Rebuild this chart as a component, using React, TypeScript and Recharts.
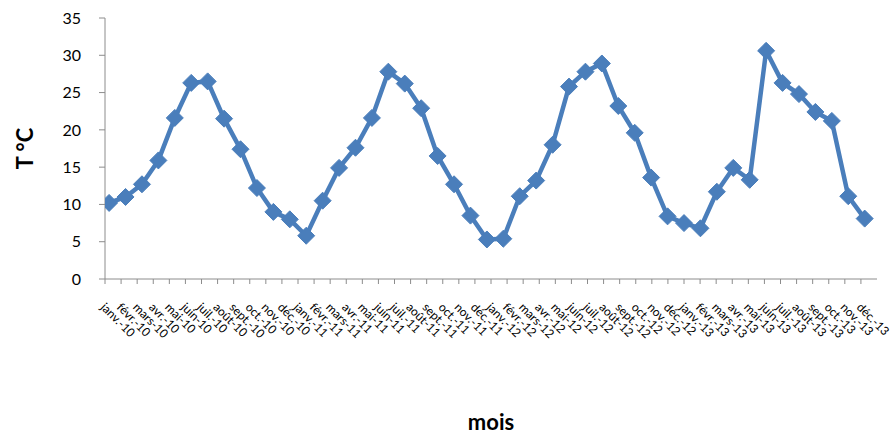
import React from 'react';
import { LineChart, Line, XAxis, YAxis, Label } from 'recharts';

// month labels of the category axis
const MONTH_NAMES = ['janv.', 'févr.', 'mars', 'avr.', 'mai', 'juin', 'juil.', 'août', 'sept.', 'oct.', 'nov.', 'déc.'];
const YEARS = ['10', '11', '12', '13'];
const MONTH_LABELS = YEARS.flatMap((y) => MONTH_NAMES.map((m) => `${m}-${y}`));

// monthly temperatures (°C)
const TEMPERATURES = [
  10.2, 11.0, 12.7, 15.9, 21.6, 26.3, 26.5, 21.5, 17.4, 12.2, 9.0, 8.0,
  5.8, 10.5, 14.9, 17.6, 21.6, 27.8, 26.2, 22.9, 16.5, 12.7, 8.5, 5.3,
  5.4, 11.1, 13.2, 18.0, 25.8, 27.8, 28.9, 23.2, 19.6, 13.6, 8.4, 7.5,
  6.8, 11.7, 14.9, 13.3, 30.6, 26.3, 24.8, 22.4, 21.2, 11.1, 8.1,
];

const Y_TICKS = [0, 5, 10, 15, 20, 25, 30, 35];

const LINE_COLOR = '#4a7ebb';
const AXIS_COLOR = '#8c8c8c';
const FONT = 'Lato, "Open Sans", sans-serif';

const data = TEMPERATURES.map((t, i) => ({ idx: i, temp: t }));
const monthTicks = MONTH_LABELS.map((_, i) => i);

const renderDiamond = (props: any) => {
  const { cx, cy, index } = props;
  if (!Number.isFinite(cx) || !Number.isFinite(cy)) return <g key={`d-${index}`} />;
  const r = 8.5;
  return (
    <polygon
      key={`d-${index}`}
      points={`${cx},${cy - r} ${cx + r},${cy} ${cx},${cy + r} ${cx - r},${cy}`}
      fill={LINE_COLOR}
      stroke={LINE_COLOR}
      strokeWidth={1}
    />
  );
};

const MonthTick = (props: any) => {
  const { x, y, payload } = props;
  const tx = x - 5;
  const ty = y + 22;
  return (
    <text
      x={tx}
      y={ty}
      transform={`rotate(45 ${tx} ${ty})`}
      textAnchor="start"
      fontSize={12}
      fontFamily={FONT}
      fill="#000"
    >
      {MONTH_LABELS[payload.value]}
    </text>
  );
};

const XTitle = (props: any) => {
  const { viewBox } = props;
  return (
    <text
      x={viewBox.x + viewBox.width / 2}
      y={viewBox.y + 151}
      textAnchor="middle"
      fontSize={22}
      fontWeight={700}
      fontFamily={FONT}
      fill="#000"
    >
      mois
    </text>
  );
};

const YTitle = (props: any) => {
  const { viewBox } = props;
  const cx = viewBox.x + 24;
  const cy = viewBox.y + viewBox.height / 2;
  return (
    <text
      x={cx}
      y={cy}
      transform={`rotate(-90 ${cx} ${cy})`}
      textAnchor="middle"
      dominantBaseline="central"
      fontSize={22}
      fontWeight={700}
      fontFamily={FONT}
      fill="#000"
    >
      T °C
    </text>
  );
};

export default function App() {
  return (
    <div style={{ width: 892, height: 434, background: '#fff' }}>
      <style>{'body { margin: 0; }'}</style>
      <LineChart width={892} height={434} data={data} margin={{ top: 18, right: 15, bottom: 0, left: 0 }}>
        {/* visible month axis: ticks at category boundaries */}
        <XAxis
          xAxisId="lbl"
          dataKey="idx"
          type="number"
          domain={[0, 48]}
          allowDataOverflow
          ticks={monthTicks}
          interval={0}
          height={155}
          tickSize={5}
          axisLine={{ stroke: AXIS_COLOR }}
          tickLine={{ stroke: AXIS_COLOR }}
          tick={<MonthTick />}
        >
          <Label content={<XTitle />} />
        </XAxis>
        {/* hidden axis that places the 47 points */}
        <XAxis
          xAxisId="pts"
          dataKey="idx"
          type="number"
          domain={[-0.25, 46.75]}
          allowDataOverflow
          hide
        />
        <YAxis
          domain={[0, 35]}
          ticks={Y_TICKS}
          interval={0}
          width={105}
          tickSize={6}
          tickMargin={18}
          axisLine={{ stroke: AXIS_COLOR }}
          tickLine={{ stroke: AXIS_COLOR }}
          tick={{ fill: '#000', fontSize: 16, fontFamily: FONT }}
        >
          <Label content={<YTitle />} />
        </YAxis>
        <Line
          xAxisId="pts"
          type="linear"
          dataKey="temp"
          stroke={LINE_COLOR}
          strokeWidth={4.5}
          dot={renderDiamond}
          activeDot={false}
          isAnimationActive={false}
        />
      </LineChart>
    </div>
  );
}
